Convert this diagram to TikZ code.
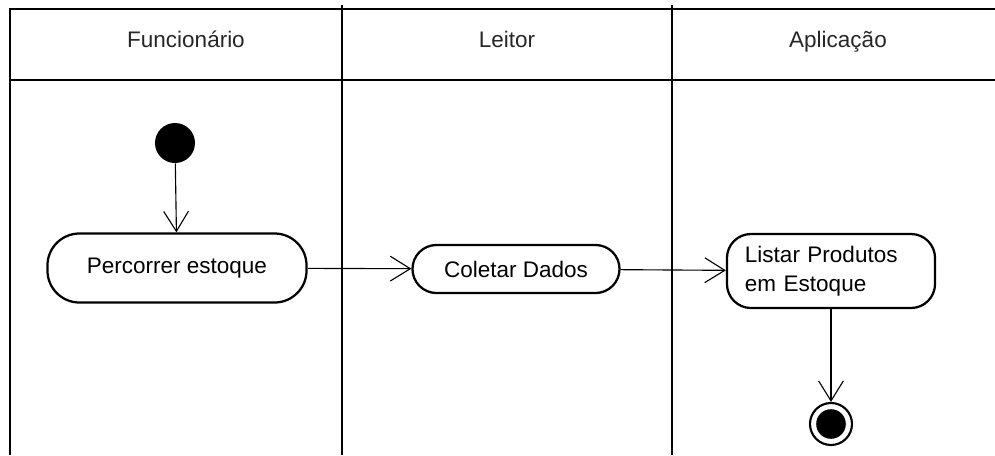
\documentclass[tikz,border=0pt]{standalone}
\usepackage{fontspec}
\setmainfont{Liberation Sans}
\usetikzlibrary{arrows.meta}

\begin{document}
\begin{tikzpicture}[x=0.025cm,y=-0.025cm,
  raia/.style={line width=1.3pt},
  acao/.style={draw,line width=1.6pt,inner sep=0pt,rounded corners=0.6cm,font=\fontsize{16}{20.5}\selectfont},
  titulo/.style={anchor=base,font=\fontsize{16}{19}\selectfont,text=black!85},
  fluxo/.style={line width=0.8pt,-{Straight Barb[length=0.5cm,width=0.62cm]}}]
\useasboundingbox (0,0) rectangle (995,455);
\draw[raia] (995,9) -- (10,9) -- (10,455);
\draw[raia] (10,80) -- (995,80);
\draw[raia] (342,5) -- (342,455);
\draw[raia] (672,5) -- (672,455);
\node[titulo] (funcionario) at (186,47) {Funcionário};
\node[titulo] (leitor) at (507,47) {Leitor};
\node[titulo] (aplicacao) at (838,47) {Aplicação};
\node[circle,fill=black,minimum size=1cm,inner sep=0pt] (inicio) at (175,143) {};
\node[acao,minimum width=6.475cm,minimum height=1.725cm,rounded corners=0.8cm] (percorrer) at (177,268) {Percorrer estoque};
\node[acao,minimum width=5.175cm,minimum height=1.2cm] (coletar) at (516,269) {Coletar Dados};
\node[acao,minimum height=1.85cm,text width=4.3cm,inner xsep=0.45cm,align=left] (listar) at (831,271) {Listar Produtos\\em Estoque};
\node[circle,draw,line width=1.5pt,minimum size=1.05cm,inner sep=0pt] (fim) at (831,424) {};
\fill (fim.center) circle (0.37cm);
\draw[fluxo] (inicio) -- (percorrer);
\draw[fluxo] (percorrer) -- (coletar);
\draw[fluxo] (coletar) -- (listar);
\draw[fluxo] (listar) -- (fim);
\end{tikzpicture}
\end{document}
